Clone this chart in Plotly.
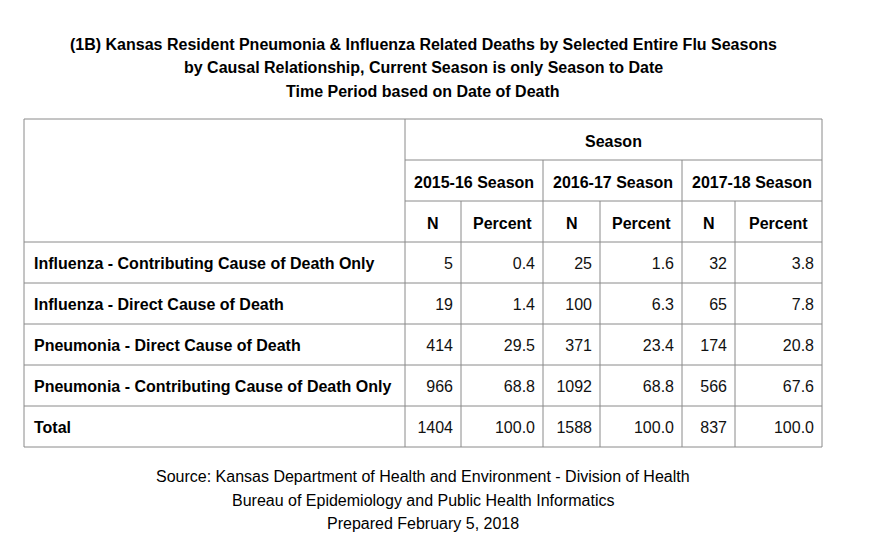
import plotly.graph_objects as go

# table content
title_lines = [
    "(1B) Kansas Resident Pneumonia & Influenza Related Deaths by Selected Entire Flu Seasons",
    "by Causal Relationship, Current Season is only Season to Date",
    "Time Period based on Date of Death",
]
footer_lines = [
    "Source: Kansas Department of Health and Environment - Division of Health",
    "Bureau of Epidemiology and Public Health Informatics",
    "Prepared February 5, 2018",
]
causes = [
    "Influenza - Contributing Cause of Death Only",
    "Influenza - Direct Cause of Death",
    "Pneumonia - Direct Cause of Death",
    "Pneumonia - Contributing Cause of Death Only",
    "Total",
]
seasons = ["2015-16 Season", "2016-17 Season", "2017-18 Season"]
n_2015_16 = [5, 19, 414, 966, 1404]
pct_2015_16 = [0.4, 1.4, 29.5, 68.8, 100.0]
n_2016_17 = [25, 100, 371, 1092, 1588]
pct_2016_17 = [1.6, 6.3, 23.4, 68.8, 100.0]
n_2017_18 = [32, 65, 174, 566, 837]
pct_2017_18 = [3.8, 7.8, 20.8, 67.6, 100.0]

# layout grid (page pixels)
col_edges = [24, 405, 461, 543, 600, 682, 735, 822]
row_edges = [119, 160, 201, 242, 283, 324, 365, 406, 447]
line_col = "#8a8a8a"
font = "Liberation Sans, Arial, sans-serif"
pad = 8
page_offset = 8  # body margin of the html page
text_dy = 1.5  # text sits slightly below the cell middle

fig = go.Figure()

shapes = []
def hline(y, x0, x1):
    shapes.append(dict(type="line", x0=x0, x1=x1, y0=y, y1=y, line=dict(color=line_col, width=1)))
def vline(x, y0, y1):
    shapes.append(dict(type="line", x0=x, x1=x, y0=y0, y1=y1, line=dict(color=line_col, width=1)))

top, bottom = row_edges[0], row_edges[-1]
left, right = col_edges[0], col_edges[-1]
hline(top, left, right)
hline(row_edges[1], col_edges[1], right)
hline(row_edges[2], col_edges[1], right)
for y in row_edges[3:]:
    hline(y, left, right)
vline(left, top, bottom)
vline(col_edges[1], top, bottom)
vline(right, top, bottom)
for x in (col_edges[3], col_edges[5]):
    vline(x, row_edges[1], bottom)
for x in (col_edges[2], col_edges[4], col_edges[6]):
    vline(x, row_edges[2], bottom)

def mid(a, b):
    return (a + b) / 2 + text_dy

annotations = []
def label(x, y, text, bold=False, anchor="center", size=16):
    if bold:
        text = "<b>" + text + "</b>"
    annotations.append(dict(x=x, y=y, text=text, showarrow=False, xanchor=anchor, yanchor="middle",
                            font=dict(family=font, size=size, color="#000000")))

# title and footer
for i, t in enumerate(title_lines):
    label(423, 44 + i * 23.5, t, bold=True)
for i, t in enumerate(footer_lines):
    label(423, 476.5 + i * 23.5, t)

# header rows
label((col_edges[1] + right) / 2, mid(row_edges[0], row_edges[1]), "Season", bold=True)
for i, s in enumerate(seasons):
    label((col_edges[1 + 2 * i] + col_edges[3 + 2 * i]) / 2, mid(row_edges[1], row_edges[2]), s, bold=True)
    label((col_edges[1 + 2 * i] + col_edges[2 + 2 * i]) / 2, mid(row_edges[2], row_edges[3]), "N", bold=True)
    label((col_edges[2 + 2 * i] + col_edges[3 + 2 * i]) / 2, mid(row_edges[2], row_edges[3]), "Percent", bold=True)

row_y = [mid(row_edges[3 + i], row_edges[4 + i]) + 0.5 for i in range(len(causes))]

# category labels
fig.add_trace(go.Scatter(
    x=[col_edges[0] + 10] * len(causes), y=row_y, mode="text",
    text=["<b>" + c + "</b>" for c in causes], textposition="middle right",
    textfont=dict(family=font, size=16, color="#000000"), hoverinfo="skip", showlegend=False,
))

# value columns
columns = [n_2015_16, pct_2015_16, n_2016_17, pct_2016_17, n_2017_18, pct_2017_18]
for j, vals in enumerate(columns):
    if j % 2 == 0:
        txt = [str(v) for v in vals]
    else:
        txt = [f"{v:.1f}" for v in vals]
    fig.add_trace(go.Scatter(
        x=[col_edges[j + 2] - pad] * len(vals), y=row_y, mode="text",
        text=txt, textposition="middle left",
        textfont=dict(family=font, size=16, color="#111111"), hoverinfo="skip", showlegend=False,
    ))

fig.update_layout(
    width=880, height=538,
    margin=dict(l=0, r=0, t=0, b=0),
    paper_bgcolor="white", plot_bgcolor="white",
    xaxis=dict(range=[page_offset, 880 + page_offset], visible=False, fixedrange=True),
    yaxis=dict(range=[538 + page_offset, page_offset], visible=False, fixedrange=True),
    shapes=shapes, annotations=annotations,
)

fig.write_html("out.html")
